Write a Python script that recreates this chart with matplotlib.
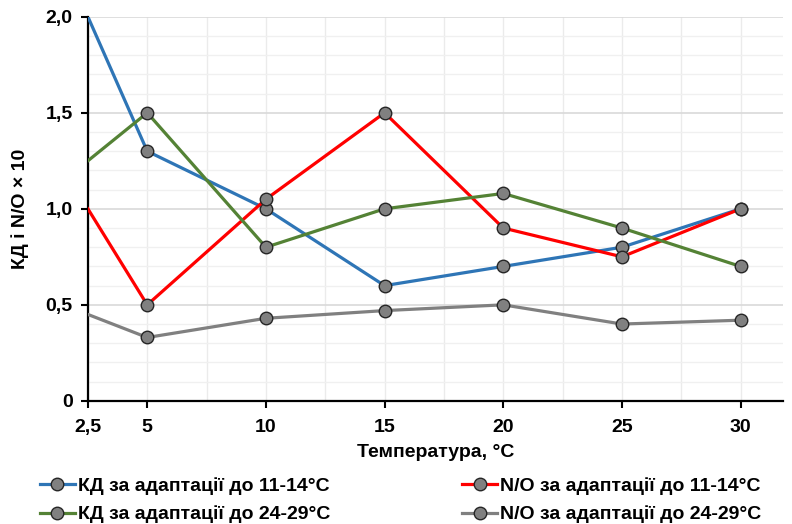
import matplotlib
matplotlib.use("Agg")
import matplotlib.pyplot as plt
import numpy as np
from matplotlib.ticker import MultipleLocator, FixedLocator

plt.rcParams['font.family'] = ['Liberation Sans', 'DejaVu Sans']
plt.rcParams['font.weight'] = 'bold'

temps = [2.5, 5, 10, 15, 20, 25, 30]
kd_11_14 = [2.0, 1.3, 1.0, 0.6, 0.7, 0.8, 1.0]
no_11_14 = [1.0, 0.5, 1.05, 1.5, 0.9, 0.75, 1.0]
kd_24_29 = [1.25, 1.5, 0.8, 1.0, 1.08, 0.9, 0.7]
no_24_29 = [0.45, 0.33, 0.43, 0.47, 0.5, 0.4, 0.42]

labels = ["КД за адаптації до 11-14°C", "N/O за адаптації до 11-14°C",
          "КД за адаптації до 24-29°C", "N/O за адаптації до 24-29°C"]
colors = ["#2E75B6", "#FF0000", "#548235", "#808080"]
series = [kd_11_14, no_11_14, kd_24_29, no_24_29]

xticks = [2.5, 5, 10, 15, 20, 25, 30]
xticklabels = ["2,5", "5", "10", "15", "20", "25", "30"]
yticks = [0, 0.5, 1.0, 1.5, 2.0]
yticklabels = ["0", "0,5", "1,0", "1,5", "2,0"]

FS = 14

fig = plt.figure(figsize=(7.92, 5.24), dpi=100)
ax = fig.add_axes([0.111, 0.235, 0.878, 0.733])

handles = []
for vals, col, lab in zip(series, colors, labels):
    h, = ax.plot(temps, vals, color=col, lw=2.3, marker='o', markevery=slice(1, None),
                 markersize=9, markerfacecolor='#808080', markeredgecolor='#262626',
                 markeredgewidth=1.0, label=lab, zorder=3)
    handles.append(h)

ax.set_xlim(2.5, 31.8)
ax.set_ylim(0, 2.0)
ax.xaxis.set_major_locator(FixedLocator(xticks))
ax.set_xticklabels(xticklabels)
ax.xaxis.set_minor_locator(MultipleLocator(2.5))
ax.xaxis.remove_overlapping_locs = False
ax.set_yticks(yticks)
ax.set_yticklabels(yticklabels)
ax.yaxis.set_minor_locator(MultipleLocator(0.1))

ax.grid(False)
ax.grid(True, which='minor', axis='x', color='#EBEBEB', lw=1.0, zorder=0)
ax.grid(True, which='minor', axis='y', color='#F0F0F0', lw=1.0, zorder=0)
ax.grid(True, which='major', axis='y', color='#D9D9D9', lw=1.2, zorder=0)
ax.set_axisbelow(True)

for s in ['top', 'right']:
    ax.spines[s].set_visible(False)
for s in ['left', 'bottom']:
    ax.spines[s].set_linewidth(1.6)
    ax.spines[s].set_color('black')
ax.tick_params(which='major', direction='out', length=5, width=1.5, labelsize=FS, pad=6)
ax.tick_params(axis='x', which='major', pad=8)
ax.tick_params(which='minor', length=0)
for lbl in ax.get_xticklabels() + ax.get_yticklabels():
    lbl.set_fontweight('bold')

ax.set_xlabel("Температура, °C", fontsize=FS, fontweight='bold', labelpad=6)
ax.set_ylabel("КД і N/O × 10", fontsize=FS, fontweight='bold', labelpad=12)

order = [0, 2, 1, 3]
fig.legend([handles[i] for i in order], [labels[i] for i in order],
           loc='upper left', bbox_to_anchor=(0.05, 0.090), ncol=2, frameon=False,
           prop={'size': FS, 'weight': 'bold'}, handlelength=1.8, handletextpad=0.15,
           columnspacing=6.8, labelspacing=0.57, borderaxespad=0, borderpad=0)

fig.savefig("out.png", dpi=100)
